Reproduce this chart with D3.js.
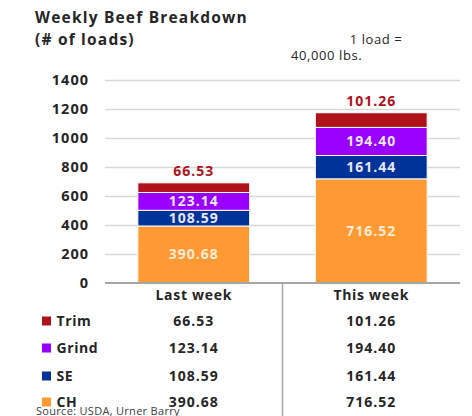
<!DOCTYPE html>
<html><head><meta charset="utf-8">
<script src="https://cdn.jsdelivr.net/npm/d3@7"></script>
<style>body{margin:0;background:#fff}svg{display:block;font-family:"Open Sans",sans-serif}</style>
</head><body><svg id="c" width="472" height="416"></svg>
<script>
const categories = ["Last week", "This week"];
const seriesNames = ["CH", "SE", "Grind", "Trim"];
const CH = [390.68, 716.52];
const SE = [108.59, 161.44];
const Grind = [123.14, 194.40];
const Trim = [66.53, 101.26];
const yTicks = [0, 200, 400, 600, 800, 1000, 1200, 1400];
const colors = {CH: "#FF9933", SE: "#003399", Grind: "#9900FF", Trim: "#B0121B"};

const svg = d3.select("#c");
const values = {CH, SE, Grind, Trim};
const rows = categories.map((c, i) => {
  const r = {cat: c};
  seriesNames.forEach(s => r[s] = values[s][i]);
  return r;
});
const stack = d3.stack().keys(seriesNames)(rows);

const x = d3.scaleBand().domain(categories).range([105, 460]).paddingInner(0.37).paddingOuter(0.185);
const y = d3.scaleLinear().domain([0, 1400]).range([282.5, 80]);

// gridlines
svg.append("g").selectAll("line").data(yTicks.filter(d => d > 0)).join("line")
  .attr("x1", 105).attr("x2", 460).attr("y1", d => Math.round(y(d)) + 0.5).attr("y2", d => Math.round(y(d)) + 0.5)
  .attr("stroke", "#d9d9d9").attr("stroke-width", 1.5);

// y axis labels
const ya = svg.append("g").attr("transform", "translate(89,0)")
  .call(d3.axisLeft(y).tickValues(yTicks).tickSize(0).tickPadding(0).tickFormat(d3.format("d")));
ya.select(".domain").remove();
ya.selectAll("text").attr("font-family", "Open Sans").attr("font-weight", "bold").attr("font-size", 14.5)
  .attr("letter-spacing", 1).attr("fill", "#262626");

// bars
const g = svg.append("g");
stack.forEach(layer => {
  g.append("g").selectAll("rect").data(layer).join("rect")
    .attr("x", d => x(d.data.cat)).attr("width", x.bandwidth())
    .attr("y", d => y(d[1])).attr("height", d => y(d[0]) - y(d[1]))
    .attr("fill", colors[layer.key]).attr("stroke", "#fff").attr("stroke-width", 1);
});
// inner labels
stack.filter(l => l.key !== "Trim").forEach(layer => {
  g.append("g").selectAll("text").data(layer).join("text")
    .attr("x", d => x(d.data.cat) + x.bandwidth() / 2)
    .attr("y", d => (y(d[0]) + y(d[1])) / 2)
    .attr("dy", "0.36em").attr("text-anchor", "middle")
    .attr("font-weight", "bold").attr("font-size", 14).attr("letter-spacing", 1)
    .attr("fill", layer.key === "CH" ? "#FFEBD6" : "#E6E6FF")
    .text(d => (d[1] - d[0]).toFixed(2));
});
// trim labels above
const trimLayer = stack.find(l => l.key === "Trim");
g.append("g").selectAll("text").data(trimLayer).join("text")
  .attr("x", d => x(d.data.cat) + x.bandwidth() / 2)
  .attr("y", d => y(d[1]) - 12).attr("dy", "0.36em").attr("text-anchor", "middle")
  .attr("font-weight", "bold").attr("font-size", 14).attr("letter-spacing", 1).attr("fill", colors.Trim)
  .text(d => (d[1] - d[0]).toFixed(2));

// axis baseline
svg.append("line").attr("x1", 105).attr("x2", 460).attr("y1", 283).attr("y2", 283)
  .attr("stroke", "#a6a6a6").attr("stroke-width", 2);
// divider
svg.append("line").attr("x1", 282.5).attr("x2", 282.5).attr("y1", 283).attr("y2", 416)
  .attr("stroke", "#a6a6a6").attr("stroke-width", 1.5);

// category labels
svg.append("g").selectAll("text").data(categories).join("text")
  .attr("x", d => x(d) + x.bandwidth() / 2).attr("y", 295).attr("dy", "0.36em")
  .attr("text-anchor", "middle").attr("font-weight", "bold").attr("font-size", 14).attr("letter-spacing", 0.7)
  .attr("fill", "#262626").text(d => d);

// data table
const tableOrder = ["Trim", "Grind", "SE", "CH"];
const rowY = [321, 348, 376, 402];
const tg = svg.append("g");
tableOrder.forEach((s, i) => {
  tg.append("rect").attr("x", 42).attr("y", rowY[i] - 4.5).attr("width", 9).attr("height", 9).attr("fill", colors[s]);
  tg.append("text").attr("x", 56.5).attr("y", rowY[i]).attr("dy", "0.36em")
    .attr("font-weight", "bold").attr("font-size", 14).attr("letter-spacing", 0.6).attr("fill", "#262626").text(s);
  categories.forEach((c, j) => {
    tg.append("text").attr("x", x(c) + x.bandwidth() / 2).attr("y", rowY[i]).attr("dy", "0.36em")
      .attr("text-anchor", "middle").attr("font-weight", "bold").attr("font-size", 14).attr("letter-spacing", 1)
      .attr("fill", "#262626").text(values[s][j].toFixed(2));
  });
});

// titles
svg.append("text").attr("x", 35).attr("y", 23).attr("font-weight", "bold").attr("font-size", 15.5).attr("letter-spacing", 1.2).attr("fill", "#262626").text("Weekly Beef Breakdown");
svg.append("text").attr("x", 35).attr("y", 45).attr("font-weight", "bold").attr("font-size", 15.5).attr("letter-spacing", 1.2).attr("fill", "#262626").text("(# of loads)");
svg.append("text").attr("x", 376).attr("y", 44).attr("text-anchor", "middle").attr("font-size", 13).attr("letter-spacing", 0.6).attr("fill", "#262626").text("1 load =");
svg.append("text").attr("x", 291).attr("y", 60).attr("font-size", 13).attr("letter-spacing", 0.6).attr("fill", "#262626").text("40,000 lbs.");
svg.append("text").attr("x", 36).attr("y", 414.5).attr("font-size", 11).attr("letter-spacing", 0.3).attr("fill", "#404040").text("Source: USDA, Urner Barry");
</script></body></html>
